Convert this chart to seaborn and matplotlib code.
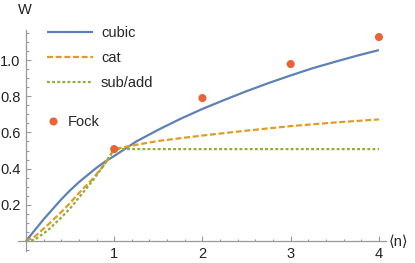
import matplotlib
matplotlib.use("Agg")
import matplotlib.pyplot as plt
from matplotlib.ticker import MultipleLocator
from matplotlib.lines import Line2D
import pandas as pd
import seaborn as sns

# 讀圖估計的數據
cubic_x = [0, 0.1, 0.2, 0.3, 0.4, 0.5, 0.6, 0.7, 0.8, 0.9, 1,
           1.25, 1.5, 1.75, 2, 2.25, 2.5, 2.75, 3, 3.25, 3.5, 3.75, 4]
cubic_y = [0, 0.06, 0.12, 0.175, 0.23, 0.28, 0.325, 0.365, 0.405, 0.44, 0.47,
           0.55, 0.615, 0.675, 0.73, 0.78, 0.828, 0.873, 0.915, 0.955, 0.99,
           1.024, 1.055]

cat_x = [0, 0.1, 0.25, 0.4, 0.5, 0.6, 0.75, 0.9, 1,
         1.25, 1.5, 2, 2.5, 3, 3.5, 4]
cat_y = [0, 0.025, 0.09, 0.16, 0.21, 0.265, 0.34, 0.43, 0.508,
         0.532, 0.553, 0.583, 0.61, 0.635, 0.655, 0.672]

sub_x = [0, 0.1, 0.25, 0.4, 0.5, 0.6, 0.75, 0.9, 1, 2, 3, 4]
sub_y = [0, 0.008, 0.06, 0.13, 0.18, 0.24, 0.33, 0.43, 0.508, 0.508, 0.508, 0.508]

fock_x = [1, 2, 3, 4]
fock_y = [0.508, 0.79, 0.978, 1.127]

labels = ["cubic", "cat", "sub/add"]
colors = ["#5E81B5", "#E19C24", "#8FB032"]
fock_color = "#EB6235"

sns.set_theme(style="white")
plt.rcParams["font.family"] = ["Liberation Sans", "DejaVu Sans"]

W, H = 415, 263
fig = plt.figure(figsize=(W / 100, H / 100), dpi=100)
ax = fig.add_axes([18 / W, 1 - 251 / H, (386 - 18) / W, (251 - 30) / H])

series = [(cubic_x, cubic_y), (cat_x, cat_y), (sub_x, sub_y)]
styles = [(0, ()), (0, (2.7, 1.2)), (0, (1.3, 1.0))]
for (xs, ys), lab, col, ls in zip(series, labels, colors, styles):
    df = pd.DataFrame({"n": xs, "W": ys})
    sns.lineplot(data=df, x="n", y="W", ax=ax, color=col, linewidth=1.6,
                 linestyle=ls, legend=False)

fock_df = pd.DataFrame({"n": fock_x, "W": fock_y})
sns.scatterplot(data=fock_df, x="n", y="W", ax=ax, color=fock_color, s=34,
                edgecolor="none", legend=False, zorder=5)

ax.set_xlim(-0.09, 4.08)
ax.set_ylim(-0.055, 1.166)
ax.set_xlabel("")
ax.set_ylabel("")

# 軸線置於原點
axis_col = "#999999"
for side in ["top", "right"]:
    ax.spines[side].set_visible(False)
ax.spines["left"].set_position(("data", 0))
ax.spines["bottom"].set_position(("data", 0))
for side in ["left", "bottom"]:
    ax.spines[side].set_color(axis_col)
    ax.spines[side].set_linewidth(0.9)

ax.set_xticks([1, 2, 3, 4])
ax.set_xticklabels(["1", "2", "3", "4"])
ax.set_yticks([0.2, 0.4, 0.6, 0.8, 1.0])
ax.set_yticklabels(["0.2", "0.4", "0.6", "0.8", "1.0"])
ax.xaxis.set_minor_locator(MultipleLocator(0.2))
ax.yaxis.set_minor_locator(MultipleLocator(0.05))
ax.tick_params(which="both", direction="in", color=axis_col, width=0.8,
               labelsize=10.5, labelcolor="#222222", bottom=True, left=True)
ax.tick_params(which="major", length=3.4, pad=4)
ax.tick_params(which="minor", length=1.8)

ax.text(25 / W, 1 - 10 / H, "W", transform=fig.transFigure, fontsize=10.5,
        ha="center", va="center", color="#222222")
ax.text(389 / W, 1 - 242 / H, "\u27e8n\u27e9", transform=fig.transFigure,
        fontsize=10.5, ha="left", va="center", color="#222222")

# 圖例
handles = [Line2D([], [], color=c, linewidth=1.6, linestyle=ls)
           for c, ls in zip(colors, styles)]
fig.legend(handles, labels, loc="upper left",
           bbox_to_anchor=(47 / W, 1 - 26 / H), frameon=False,
           fontsize=10.5, handlelength=3.15, handletextpad=0.55,
           labelspacing=0.75, borderpad=0, borderaxespad=0)
fock_handle = [Line2D([], [], color=fock_color, marker="o", linestyle="none",
                      markersize=5.8, markeredgewidth=0)]
fig.legend(fock_handle, ["Fock"], loc="upper left",
           bbox_to_anchor=(46 / W, 1 - 115 / H), frameon=False,
           fontsize=10.5, handlelength=1.0, handletextpad=0.5,
           borderpad=0, borderaxespad=0)

fig.savefig("out.png", dpi=100)
